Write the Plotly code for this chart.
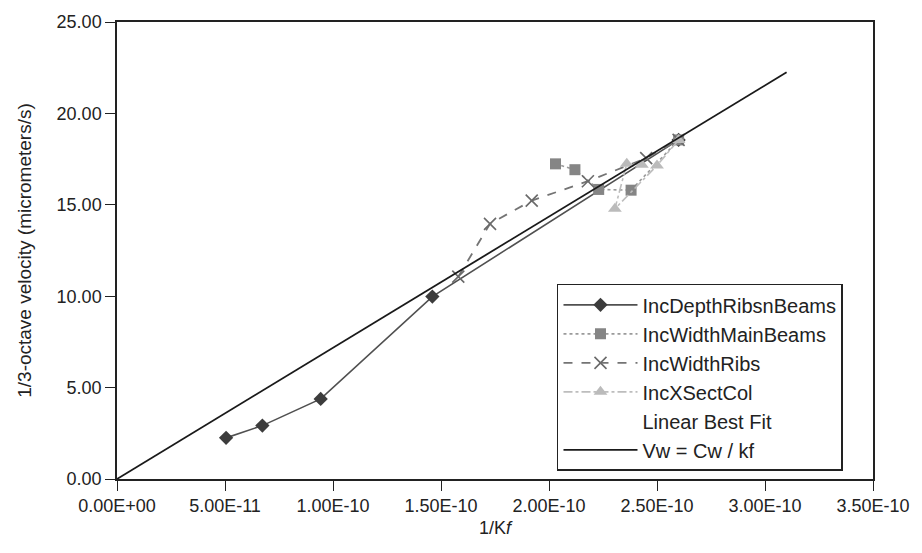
import plotly.graph_objects as go

# ---- data ----
depth_x = [5.05e-11, 6.73e-11, 9.43e-11, 1.46e-10, 2.60e-10]
depth_y = [2.25, 2.92, 4.38, 9.98, 18.55]

mainbeam_x = [2.03e-10, 2.12e-10, 2.23e-10, 2.38e-10, 2.60e-10]
mainbeam_y = [17.24, 16.92, 15.84, 15.80, 18.55]

ribs_x = [1.58e-10, 1.727e-10, 1.92e-10, 2.18e-10, 2.45e-10, 2.60e-10]
ribs_y = [11.07, 13.96, 15.23, 16.29, 17.55, 18.55]

col_x = [2.43e-10, 2.36e-10, 2.305e-10, 2.50e-10, 2.60e-10]
col_y = [17.19, 17.24, 14.78, 17.15, 18.55]

vw_x = [0.0, 3.10e-10]
vw_y = [0.0, 22.25]

x_tickvals = [0, 5e-11, 1e-10, 1.5e-10, 2e-10, 2.5e-10, 3e-10, 3.5e-10]
x_ticktext = ["0.00E+00", "5.00E-11", "1.00E-10", "1.50E-10", "2.00E-10",
              "2.50E-10", "3.00E-10", "3.50E-10"]
y_tickvals = [0, 5, 10, 15, 20, 25]
y_ticktext = ["0.00", "5.00", "10.00", "15.00", "20.00", "25.00"]

FONT = "Liberation Sans, Arial, sans-serif"

fig = go.Figure()
fig.add_trace(go.Scatter(
    x=depth_x, y=depth_y, mode="lines+markers", name="IncDepthRibsnBeams",
    legendgroup="a",
    line=dict(color="#505050", width=1.6),
    marker=dict(symbol="diamond", size=11, color="#3c3c3c")))
fig.add_trace(go.Scatter(
    x=mainbeam_x, y=mainbeam_y, mode="lines+markers", name="IncWidthMainBeams",
    legendgroup="b",
    line=dict(color="#9a9a9a", width=1.6, dash="dot"),
    marker=dict(symbol="square", size=11, color="#858585")))
fig.add_trace(go.Scatter(
    x=ribs_x, y=ribs_y, mode="lines+markers", name="IncWidthRibs",
    legendgroup="c",
    line=dict(color="#747474", width=1.8, dash="dash"),
    marker=dict(symbol="x-thin-open", size=12, color="#6a6a6a",
                line=dict(width=1.6, color="#6a6a6a"))))
fig.add_trace(go.Scatter(
    x=col_x, y=col_y, mode="lines+markers", name="IncXSectCol",
    legendgroup="d",
    line=dict(color="#bdbdbd", width=1.6, dash="dashdot"),
    marker=dict(symbol="triangle-up", size=12, color="#bbbbbb")))
fig.add_trace(go.Scatter(
    x=[None], y=[None], mode="lines", name="Linear Best Fit",
    legendgroup="e",
    line=dict(color="rgba(0,0,0,0)", width=0)))
fig.add_trace(go.Scatter(
    x=vw_x, y=vw_y, mode="lines", name="Vw = Cw / kf",
    legendgroup="f",
    line=dict(color="#1a1a1a", width=1.8)))

fig.update_layout(
    width=922, height=553,
    margin=dict(l=117, r=49, t=14, b=74),
    paper_bgcolor="white", plot_bgcolor="white",
    font=dict(family=FONT, size=18, color="#222"),
    showlegend=True,
    legend=dict(
        x=0.582, y=0.427, xanchor="left", yanchor="top",
        bordercolor="#222", borderwidth=1.5, bgcolor="white",
        font=dict(family=FONT, size=20, color="#222"),
        itemwidth=74, tracegroupgap=0, traceorder="grouped",
    ),
)
fig.update_xaxes(
    range=[0, 3.5e-10], tickvals=x_tickvals, ticktext=x_ticktext,
    showgrid=False, zeroline=False, showline=True, linecolor="#222",
    linewidth=1.5, mirror=True, ticks="outside", ticklen=10, tickwidth=1.2,
    tickcolor="#222", tickfont=dict(size=18),
    title=dict(text="1/K<i>f</i>", font=dict(family=FONT, size=18), standoff=6),
)
fig.update_yaxes(
    range=[0, 25], tickvals=y_tickvals, ticktext=y_ticktext,
    showgrid=False, zeroline=False, showline=True, linecolor="#222",
    linewidth=1.5, mirror=True, ticks="outside", ticklen=10, tickwidth=1.2,
    tickcolor="#222", tickfont=dict(size=18),
    title=dict(text="1/3-octave velocity (micrometers/s)",
               font=dict(family=FONT, size=19), standoff=20),
)

fig.write_html("out.html")
